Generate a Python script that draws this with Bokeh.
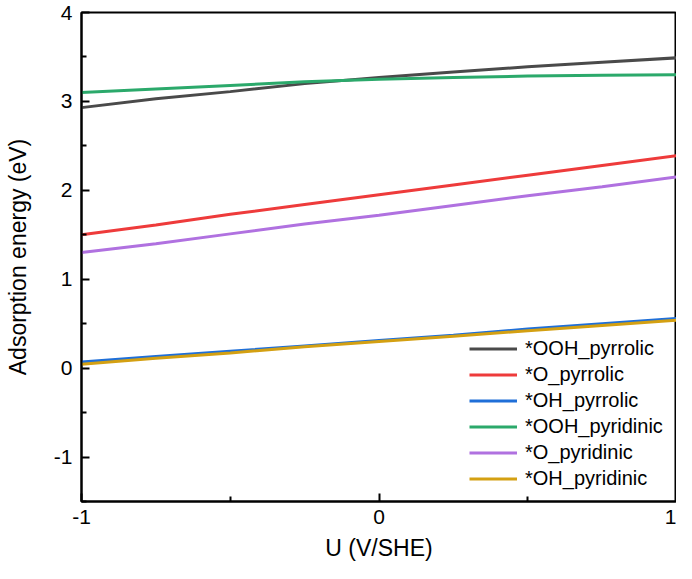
from bokeh.plotting import figure
from bokeh.models import FixedTicker, Range1d, Legend, LegendItem
from bokeh.embed import file_html
from bokeh.resources import INLINE

# ---- data ----
U = [-1.0, -0.75, -0.5, -0.25, 0.0, 0.25, 0.5, 0.75, 1.0]
OOH_pyrrolic = [2.93, 3.03, 3.11, 3.20, 3.27, 3.33, 3.39, 3.44, 3.49]
O_pyrrolic = [1.50, 1.61, 1.73, 1.84, 1.95, 2.06, 2.17, 2.28, 2.39]
OH_pyrrolic = [0.07, 0.13, 0.19, 0.25, 0.31, 0.37, 0.44, 0.50, 0.56]
OOH_pyridinic = [3.10, 3.14, 3.18, 3.22, 3.25, 3.27, 3.285, 3.295, 3.30]
O_pyridinic = [1.30, 1.40, 1.51, 1.62, 1.72, 1.83, 1.94, 2.04, 2.15]
OH_pyridinic = [0.045, 0.11, 0.17, 0.24, 0.30, 0.36, 0.42, 0.48, 0.54]

series_names = ["*OOH_pyrrolic", "*O_pyrrolic", "*OH_pyrrolic",
                "*OOH_pyridinic", "*O_pyridinic", "*OH_pyridinic"]
series_values = [OOH_pyrrolic, O_pyrrolic, OH_pyrrolic,
                 OOH_pyridinic, O_pyridinic, OH_pyridinic]
series_colors = ["#4a4a4a", "#ee3b3b", "#1f6fd8", "#2ba96b", "#b071e0", "#d4a012"]

x_ticks = [-1, 0, 1]
x_tick_labels = ["-1", "0", "1"]
x_minor = [-0.5, 0.5]
y_ticks = [-1, 0, 1, 2, 3, 4]
y_tick_labels = ["-1", "0", "1", "2", "3", "4"]
y_minor = [-1.5, -0.5, 0.5, 1.5, 2.5, 3.5]

FONT = "Liberation Sans"

p = figure(width=676, height=563, output_backend="svg", toolbar_location=None,
           x_range=Range1d(-1, 1), y_range=Range1d(-1.5, 4),
           min_border_left=81, min_border_right=0, min_border_top=12,
           min_border_bottom=58)
p.grid.visible = False
p.background_fill_color = "white"
p.border_fill_color = "white"
p.outline_line_color = "black"
p.outline_line_width = 2

renderers = []
for name, vals, col in zip(series_names, series_values, series_colors):
    r = p.line(U, vals, line_color=col, line_width=3)
    renderers.append((name, r))

for ax in (p.xaxis[0], p.yaxis[0]):
    ax.axis_line_width = 2
    ax.major_tick_line_width = 2
    ax.minor_tick_line_width = 2
    ax.major_tick_in = 8
    ax.major_tick_out = 0
    ax.minor_tick_in = 5
    ax.minor_tick_out = 0
    ax.major_label_text_font = FONT
    ax.major_label_text_font_size = "21px"
    ax.major_label_text_color = "black"
    ax.axis_label_text_font = FONT
    ax.axis_label_text_font_size = "23px"
    ax.axis_label_text_font_style = "normal"
    ax.axis_label_text_color = "black"

p.xaxis.ticker = FixedTicker(ticks=x_ticks, minor_ticks=x_minor)
p.yaxis.ticker = FixedTicker(ticks=y_ticks, minor_ticks=y_minor)
p.xaxis.major_label_overrides = {t: s for t, s in zip(x_ticks, x_tick_labels)}
p.yaxis.major_label_overrides = {t: s for t, s in zip(y_ticks, y_tick_labels)}
p.xaxis.axis_label = "U (V/SHE)"
p.yaxis.axis_label = "Adsorption energy (eV)"
p.xaxis.major_label_standoff = 8
p.xaxis.axis_label_standoff = 8
p.yaxis.major_label_standoff = 9
p.yaxis.axis_label_standoff = 20

legend = Legend(items=[LegendItem(label=n, renderers=[r]) for n, r in renderers],
                location=(388, 11))
legend.border_line_color = None
legend.background_fill_alpha = 0
legend.padding = 0
legend.margin = 0
legend.spacing = 3
legend.glyph_width = 48
legend.glyph_height = 21
legend.label_height = 21
legend.label_standoff = 8
legend.label_text_font = FONT
legend.label_text_font_size = "20px"
legend.label_text_color = "black"
p.add_layout(legend, "center")

open("out.html", "w").write(file_html(p, INLINE))
